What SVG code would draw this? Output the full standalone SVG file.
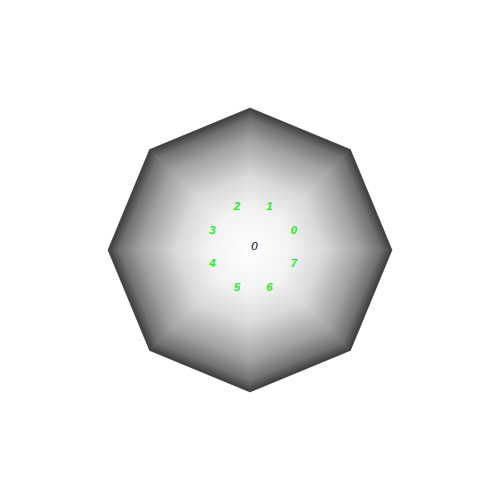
<svg xmlns="http://www.w3.org/2000/svg" xmlns:xlink="http://www.w3.org/1999/xlink" width="500" height="500" viewBox="0 0 500 500">
<style>
.lbl{font-family:"Liberation Sans",Arial,sans-serif;font-size:11.5px;font-style:italic;font-weight:bold;fill:#22ee22;text-anchor:middle}
.ctr{font-family:"Liberation Sans",Arial,sans-serif;font-size:11.5px;font-style:italic;fill:#000;text-anchor:middle}
</style>
<defs>
<linearGradient id="g" gradientUnits="userSpaceOnUse" x1="250" y1="250" x2="371.2" y2="199.8">
<stop offset="0" stop-color="#ffffff"/>
<stop offset="0.3" stop-color="#f3f3f3"/>
<stop offset="0.53" stop-color="#d9d9d9"/>
<stop offset="0.78" stop-color="#a2a2a2"/>
<stop offset="0.92" stop-color="#727272"/>
<stop offset="1" stop-color="#3c3c3c"/>
</linearGradient>
<polygon id="tri" points="250,250 392,250 350.4,149.6" fill="url(#g)" stroke="url(#g)" stroke-width="0.6" stroke-linejoin="round"/>
</defs>
<rect width="500" height="500" fill="#fff"/>
<g id="octagon">
<use xlink:href="#tri"/>
<use xlink:href="#tri" transform="rotate(-45 250 250)"/>
<use xlink:href="#tri" transform="rotate(-90 250 250)"/>
<use xlink:href="#tri" transform="rotate(-135 250 250)"/>
<use xlink:href="#tri" transform="rotate(-180 250 250)"/>
<use xlink:href="#tri" transform="rotate(-225 250 250)"/>
<use xlink:href="#tri" transform="rotate(-270 250 250)"/>
<use xlink:href="#tri" transform="rotate(-315 250 250)"/>
</g>
<g id="labels">
<text class="ctr" x="254.5" y="250">0</text>
<text class="lbl" x="294" y="234">0</text>
<text class="lbl" x="269.5" y="210">1</text>
<text class="lbl" x="237" y="210">2</text>
<text class="lbl" x="212.5" y="234">3</text>
<text class="lbl" x="212.5" y="267">4</text>
<text class="lbl" x="237" y="291">5</text>
<text class="lbl" x="269.5" y="291">6</text>
<text class="lbl" x="294" y="267">7</text>
</g>
</svg>
